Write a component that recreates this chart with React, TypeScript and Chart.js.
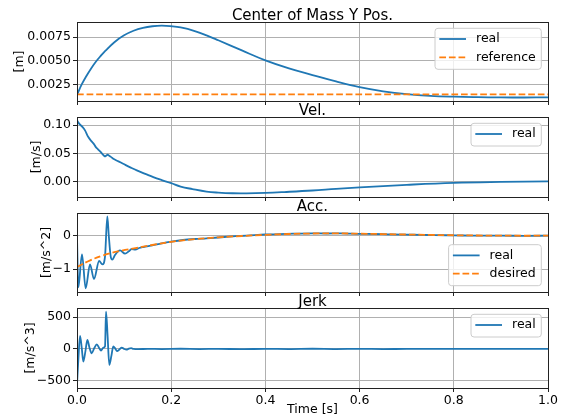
import React, { useEffect, useRef } from "react";
import { Chart, registerables } from "chart.js";

Chart.register(...registerables);

const FONT_FAMILY = "'DejaVu Sans', 'Liberation Sans', sans-serif";
const WIDTH = 566;
const HEIGHT = 417;
const PLOT_LEFT = 77;
const PLOT_RIGHT = 548;
const BLUE = "#1f77b4";
const ORANGE = "#ff7f0e";
const TICK_FONT = 12.5;
const TITLE_FONT = 15;

// ---------- data ----------
const xTicks = [0, 0.2, 0.4, 0.6, 0.8, 1.0];

const posT = [0, 0.01, 0.02, 0.03, 0.04, 0.05, 0.06, 0.08, 0.1, 0.12, 0.14, 0.16, 0.18, 0.2, 0.22, 0.25, 0.275, 0.3, 0.35, 0.4, 0.45, 0.5, 0.55, 0.6, 0.65, 0.7, 0.75, 0.8, 0.85, 0.9, 0.95, 1.0];
const posReal = [0.0014, 0.0025, 0.0034, 0.0042, 0.0049, 0.0055, 0.00605, 0.007, 0.0077, 0.00818, 0.00849, 0.00866, 0.00872, 0.00866, 0.00853, 0.00815, 0.0077, 0.00718, 0.0061, 0.00505, 0.0042, 0.0035, 0.00282, 0.00222, 0.00178, 0.00148, 0.0013, 0.00121, 0.00116, 0.00113, 0.00112, 0.00113];
const posRefT = [0, 1.0];
const posRef = [0.00145, 0.00145];
const posTicks = [0.0025, 0.005, 0.0075];

const velT = [0, 0.006, 0.012, 0.017, 0.024, 0.031, 0.036, 0.04, 0.045, 0.049, 0.054, 0.059, 0.062, 0.065, 0.068, 0.072, 0.077, 0.088, 0.098, 0.113, 0.127, 0.145, 0.162, 0.18, 0.2, 0.22, 0.245, 0.275, 0.3, 0.33, 0.36, 0.4, 0.44, 0.5, 0.55, 0.6, 0.7, 0.8, 0.9, 1.0];
const velReal = [0.1085, 0.1014, 0.0966, 0.0908, 0.079, 0.0714, 0.0665, 0.0613, 0.057, 0.0537, 0.049, 0.0449, 0.0462, 0.0477, 0.0462, 0.044, 0.0406, 0.036, 0.0318, 0.0255, 0.02, 0.014, 0.0083, 0.003, -0.0025, -0.0085, -0.013, -0.0175, -0.0193, -0.0204, -0.0205, -0.0197, -0.0182, -0.0155, -0.0125, -0.0099, -0.0055, -0.002, -0.0003, 0.0007];
const velTicks = [0, 0.05, 0.1];

const accT = [0, 0.0028, 0.0106, 0.0184, 0.0276, 0.036, 0.047, 0.054, 0.0595, 0.0644, 0.0675, 0.0715, 0.075, 0.0807, 0.0913, 0.102, 0.11, 0.116, 0.124, 0.132, 0.141, 0.16, 0.18, 0.2, 0.225, 0.25, 0.275, 0.3, 0.33, 0.36, 0.4, 0.43, 0.46, 0.5, 0.53, 0.56, 0.6, 0.63, 0.66, 0.7, 0.73, 0.76, 0.8, 0.85, 0.9, 0.95, 1.0];
const accReal = [-0.05, -1.55, -0.56, -1.58, -0.86, -1.3, -0.76, -0.86, -0.62, 0.575, 0.0, -0.62, -0.72, -0.58, -0.44, -0.54, -0.47, -0.4, -0.42, -0.37, -0.34, -0.29, -0.23, -0.18, -0.13, -0.1, -0.08, -0.055, -0.02, 0.0, 0.035, 0.045, 0.06, 0.07, 0.065, 0.07, 0.055, 0.05, 0.04, 0.03, 0.025, 0.015, 0.01, 0.0, 0.0, -0.005, 0.0];
const accDesT = [0, 0.028, 0.056, 0.091, 0.127, 0.16, 0.2, 0.25, 0.3, 0.35, 0.4, 0.45, 0.5, 0.55, 0.6, 0.65, 0.7, 0.75, 0.8, 0.85, 0.9, 0.95, 1.0];
const accDes = [-0.94, -0.74, -0.59, -0.46, -0.365, -0.28, -0.185, -0.105, -0.05, -0.01, 0.025, 0.05, 0.065, 0.068, 0.06, 0.048, 0.035, 0.022, 0.012, 0.005, 0.0, -0.002, 0.0];
const accTicks = [-1, 0];

const jerkT = [0, 0.003, 0.0064, 0.01, 0.0134, 0.018, 0.022, 0.0265, 0.031, 0.0365, 0.042, 0.047, 0.051, 0.056, 0.0595, 0.0616, 0.065, 0.0686, 0.073, 0.077, 0.081, 0.085, 0.09, 0.095, 0.1, 0.105, 0.11, 0.115, 0.12, 0.13, 0.15, 0.18, 0.22, 0.26, 0.3, 0.35, 0.4, 0.45, 0.5, 0.55, 0.6, 0.65, 0.7, 0.8, 0.9, 1.0];
const jerkReal = [-558, -150, 205, 20, -200, -30, 142, 20, -68, 10, 73, 15, -25, 20, 40, 588, 200, -252, -110, 40, 10, -35, -10, 22, 0, -12, 4, 12, 0, -3, 2, -2, 3, -2, 2, -3, 2, -2, 3, -2, 2, -2, 1, 0, 1, 0];
const jerkTicks = [-500, 0, 500];

// ---------- helpers ----------
const signed = (v: number, digits: number) => {
  const s = Math.abs(v).toFixed(digits);
  return v < 0 ? "\u2212" + s : s;
};

type Series = { label: string; t: number[]; y: number[]; color: string; dashed: boolean; smooth: boolean };
type PanelSpec = {
  title: string;
  yLabel: string;
  yLabelX: number;
  top: number;
  bottom: number;
  yMin: number;
  yMax: number;
  yTicks: number[];
  fmt: (v: number) => string;
  series: Series[];
  legendPos: "ur" | "lr";
  showX: boolean;
};

const panels: PanelSpec[] = [
  {
    title: "Center of Mass Y Pos.",
    yLabel: "[m]",
    yLabelX: 20,
    top: 22,
    bottom: 101,
    yMin: 0.00075,
    yMax: 0.00911,
    yTicks: posTicks,
    fmt: (v) => signed(v, 4),
    series: [
      { label: "real", t: posT, y: posReal, color: BLUE, dashed: false, smooth: true },
      { label: "reference", t: posRefT, y: posRef, color: ORANGE, dashed: true, smooth: false },
    ],
    legendPos: "ur",
    showX: false,
  },
  {
    title: "Vel.",
    yLabel: "[m/s]",
    yLabelX: 37,
    top: 117,
    bottom: 197,
    yMin: -0.027,
    yMax: 0.1145,
    yTicks: velTicks,
    fmt: (v) => signed(v, 2),
    series: [{ label: "real", t: velT, y: velReal, color: BLUE, dashed: false, smooth: true }],
    legendPos: "ur",
    showX: false,
  },
  {
    title: "Acc.",
    yLabel: "[m/s^2]",
    yLabelX: 47,
    top: 213,
    bottom: 292,
    yMin: -1.69,
    yMax: 0.68,
    yTicks: accTicks,
    fmt: (v) => signed(v, 0),
    series: [
      { label: "real", t: accT, y: accReal, color: BLUE, dashed: false, smooth: false },
      { label: "desired", t: accDesT, y: accDes, color: ORANGE, dashed: true, smooth: true },
    ],
    legendPos: "lr",
    showX: false,
  },
  {
    title: "Jerk",
    yLabel: "[m/s^3]",
    yLabelX: 31,
    top: 308,
    bottom: 388,
    yMin: -615,
    yMax: 645,
    yTicks: jerkTicks,
    fmt: (v) => signed(v, 0),
    series: [{ label: "real", t: jerkT, y: jerkReal, color: BLUE, dashed: false, smooth: false }],
    legendPos: "ur",
    showX: true,
  },
];

const DASH = [6.7, 2.9];
const LINE_W = 1.8;
const align = (v: number) => Math.round(v - 0.5) + 0.5;

function decorPlugin(spec: PanelSpec) {
  return {
    id: "mplDecor",
    afterDraw(chart: any) {
      const { ctx, chartArea: a } = chart;
      ctx.save();
      // spines
      ctx.strokeStyle = "#222";
      ctx.lineWidth = 1;
      ctx.setLineDash([]);
      const x0 = align(a.left), x1 = align(a.right), y0 = align(a.top), y1 = align(a.bottom);
      ctx.strokeRect(x0, y0, x1 - x0, y1 - y0);

      // title
      ctx.fillStyle = "#000";
      ctx.font = `${TITLE_FONT}px ${FONT_FAMILY}`;
      ctx.textAlign = "center";
      ctx.textBaseline = "alphabetic";
      ctx.fillText(spec.title, (a.left + a.right) / 2, a.top - 2);

      // legend
      const fs = TICK_FONT;
      const rowH = 18.3;
      ctx.font = `${fs}px ${FONT_FAMILY}`;
      const textW = Math.max(...spec.series.map((s) => ctx.measureText(s.label).width));
      const boxW = 4.3 + 26.7 + 10 + textW + 5.6;
      const boxH = 22.7 + (spec.series.length - 1) * rowH;
      const bx = a.right - 6.7 - boxW;
      const by = spec.legendPos === "ur" ? a.top + 6.3 : a.bottom - 6.3 - boxH;
      const r = 3;
      ctx.beginPath();
      ctx.moveTo(bx + r, by);
      ctx.lineTo(bx + boxW - r, by);
      ctx.arcTo(bx + boxW, by, bx + boxW, by + r, r);
      ctx.lineTo(bx + boxW, by + boxH - r);
      ctx.arcTo(bx + boxW, by + boxH, bx + boxW - r, by + boxH, r);
      ctx.lineTo(bx + r, by + boxH);
      ctx.arcTo(bx, by + boxH, bx, by + boxH - r, r);
      ctx.lineTo(bx, by + r);
      ctx.arcTo(bx, by, bx + r, by, r);
      ctx.closePath();
      ctx.fillStyle = "rgba(255,255,255,0.8)";
      ctx.fill();
      ctx.strokeStyle = "#cccccc";
      ctx.lineWidth = 1;
      ctx.stroke();
      spec.series.forEach((s, i) => {
        const cy = by + 10.7 + i * rowH;
        ctx.beginPath();
        ctx.strokeStyle = s.color;
        ctx.lineWidth = LINE_W;
        ctx.setLineDash(s.dashed ? DASH : []);
        ctx.moveTo(bx + 4.3, cy);
        ctx.lineTo(bx + 31, cy);
        ctx.stroke();
        ctx.setLineDash([]);
        ctx.fillStyle = "#000";
        ctx.textAlign = "left";
        ctx.textBaseline = "middle";
        ctx.fillText(s.label, bx + 41, cy);
      });
      ctx.restore();
    },
  };
}

function buildConfig(spec: PanelSpec): any {
  const xh = spec.showX ? HEIGHT - spec.bottom : 4;
  const font = { family: FONT_FAMILY, size: TICK_FONT };
  return {
    type: "line",
    data: {
      datasets: spec.series.map((s, i) => ({
        label: s.label,
        data: s.t.map((t, k) => ({ x: t, y: s.y[k] })),
        borderColor: s.color,
        backgroundColor: s.color,
        borderWidth: LINE_W,
        borderDash: s.dashed ? DASH : [],
        pointRadius: 0,
        fill: false,
        cubicInterpolationMode: s.smooth ? "default" : "monotone",
        tension: s.smooth ? 0.4 : 0,
        order: spec.series.length - i,
      })),
    },
    options: {
      animation: false,
      responsive: false,
      devicePixelRatio: 1,
      events: [],
      layout: {
        padding: {
          top: spec.top,
          bottom: HEIGHT - spec.bottom - xh,
          left: 0,
          right: WIDTH - PLOT_RIGHT,
        },
      },
      plugins: { legend: { display: false }, title: { display: false }, tooltip: { enabled: false } },
      scales: {
        x: {
          type: "linear",
          min: 0,
          max: 1,
          afterBuildTicks: (s: any) => {
            s.ticks = xTicks.map((v) => ({ value: v }));
          },
          afterFit: (s: any) => {
            s.height = xh;
          },
          border: { display: false },
          grid: { color: "#b0b0b0", lineWidth: 1, drawTicks: true, tickLength: 4, tickColor: "#222" },
          ticks: {
            display: spec.showX,
            font,
            color: "#000",
            padding: 1,
            maxRotation: 0,
            autoSkip: false,
            callback: (v: number) => v.toFixed(1),
          },
          title: {
            display: spec.showX,
            text: "Time [s]",
            font,
            color: "#000",
            padding: { top: 0, bottom: 0 },
          },
        },
        y: {
          type: "linear",
          min: spec.yMin,
          max: spec.yMax,
          afterBuildTicks: (s: any) => {
            s.ticks = spec.yTicks.map((v) => ({ value: v }));
          },
          afterFit: (s: any) => {
            s.width = PLOT_LEFT;
          },
          border: { display: false },
          grid: { color: "#b0b0b0", lineWidth: 1, drawTicks: true, tickLength: 4, tickColor: "#222" },
          ticks: {
            font,
            color: "#000",
            padding: 2,
            autoSkip: false,
            callback: (v: number) => spec.fmt(v),
          },
          title: {
            display: true,
            text: spec.yLabel,
            font,
            color: "#000",
            padding: { top: spec.yLabelX - (TICK_FONT * 1.2) / 2, bottom: 0 },
          },
        },
      },
    },
    plugins: [decorPlugin(spec)],
  };
}

function Panel({ spec }: { spec: PanelSpec }) {
  const ref = useRef<HTMLCanvasElement>(null);
  useEffect(() => {
    const chart = new Chart(ref.current as HTMLCanvasElement, buildConfig(spec));
    return () => chart.destroy();
  }, [spec]);
  return (
    <canvas
      ref={ref}
      width={WIDTH}
      height={HEIGHT}
      style={{ position: "absolute", left: 0, top: 0, width: WIDTH, height: HEIGHT }}
    />
  );
}

export default function App() {
  return (
    <div
      style={{
        position: "fixed",
        left: 0,
        top: 0,
        width: WIDTH,
        height: HEIGHT,
        background: "#fff",
        overflow: "hidden",
      }}
    >
      {panels.map((p) => (
        <Panel key={p.title} spec={p} />
      ))}
    </div>
  );
}
